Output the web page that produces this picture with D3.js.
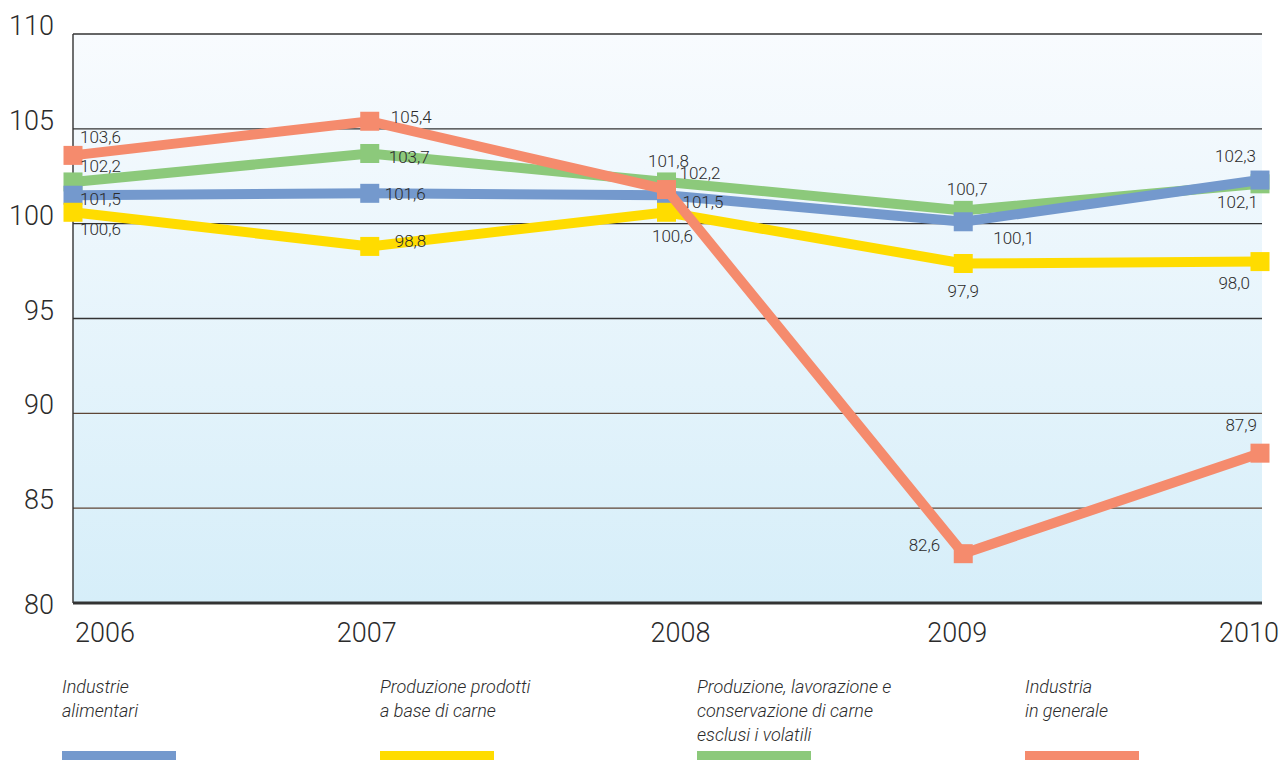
<!DOCTYPE html>
<html><head><meta charset="utf-8">
<script src="https://cdn.jsdelivr.net/npm/d3@7"></script>
<style>
html,body{margin:0;padding:0;background:#fff;}
svg{display:block;font-family:Roboto,"Liberation Sans",Arial,sans-serif;}
</style></head>
<body>
<svg id="chart" width="1280" height="760"></svg>
<script>
const years = ["2006","2007","2008","2009","2010"];
const yTicks = [80,85,90,95,100,105,110];
const seriesNames = [
  "Produzione, lavorazione e|conservazione di carne|esclusi i volatili",
  "Industrie|alimentari",
  "Produzione prodotti|a base di carne",
  "Industria|in generale"
];
const greenValues  = [102.2, 103.7, 102.2, 100.7, 102.1];
const blueValues   = [101.5, 101.6, 101.5, 100.1, 102.3];
const yellowValues = [100.6,  98.8, 100.6,  97.9,  98.0];
const orangeValues = [103.6, 105.4, 101.8,  82.6,  87.9];

const colors = ["#8cc97b", "#7499cd", "#ffdc00", "#f58b6d"];
const allValues = [greenValues, blueValues, yellowValues, orangeValues];

// label placement per series per year: [dx, dy, anchor]
const labelPos = [
  [[7,-16,"start"],[19,4,"start"],[13,-9,"start"],[4,-21,"middle"],[-2,18,"end"]],
  [[7,4,"start"],[15,1,"start"],[16,7,"start"],[30,16,"start"],[-4,-24,"end"]],
  [[7,17,"start"],[25,-5,"start"],[6,24,"middle"],[0,28,"middle"],[-10,21,"end"]],
  [[7,-18,"start"],[21,-4,"start"],[2,-29,"middle"],[-23,-9,"end"],[-3,-28,"end"]]
];

const svg = d3.select("#chart");
const L = 73, R = 1260, T = 34, B = 603;
const x = d3.scalePoint().domain(years).range([L, R]).padding(0);
const y = d3.scaleLinear().domain([80,110]).range([B, T]);

const defs = svg.append("defs");
const grad = defs.append("linearGradient").attr("id","bg").attr("x1",0).attr("x2",0).attr("y1",0).attr("y2",1);
grad.append("stop").attr("offset","0%").attr("stop-color","#f8fbfe");
grad.append("stop").attr("offset","100%").attr("stop-color","#d6eef9");

svg.append("rect").attr("x",L).attr("y",T).attr("width",R+2-L).attr("height",B-T).attr("fill","url(#bg)");

// grid
svg.append("g").selectAll("line").data(yTicks.filter(d=>d>80)).join("line")
  .attr("x1",L).attr("x2",R+2)
  .attr("y1",d=>y(d)).attr("y2",d=>y(d))
  .attr("stroke",d=>d<=90?"#5e4535":"#333")
  .attr("stroke-width",1.4);
svg.append("line").attr("x1",L).attr("x2",L).attr("y1",T).attr("y2",B).attr("stroke","#333").attr("stroke-width",1.4);
svg.append("line").attr("x1",L).attr("x2",R+2).attr("y1",B).attr("y2",B).attr("stroke","#333").attr("stroke-width",3);

// y labels
svg.append("g").selectAll("text").data(yTicks).join("text")
  .attr("x",54).attr("y",d=>y(d)+(d===80?2:-8))
  .attr("text-anchor","end").attr("dominant-baseline","central")
  .attr("font-size",27).attr("font-weight",300).attr("fill","#2b2b2b")
  .text(d=>d);

// x labels
const xdx = [2,-3,14,-6,-11];
svg.append("g").selectAll("text").data(years).join("text")
  .attr("x",(d,i)=>x(d)+xdx[i]).attr("y",633)
  .attr("text-anchor",(d,i)=>i===0?"start":"middle").attr("dominant-baseline","central")
  .attr("font-size",27).attr("font-weight",300).attr("fill","#2b2b2b")
  .text(d=>d);

// series
const line = d3.line().x((d,i)=>x(years[i])).y(d=>y(d));
const ms = 19;
allValues.forEach((vals, s) => {
  const g = svg.append("g");
  g.append("path").attr("d", line(vals)).attr("fill","none")
    .attr("stroke", colors[s]).attr("stroke-width",10).attr("stroke-linejoin","miter");
  g.selectAll("rect").data(vals).join("rect")
    .attr("x",(d,i)=>x(years[i])-ms/2).attr("y",d=>y(d)-ms/2)
    .attr("width",ms).attr("height",ms).attr("fill",colors[s]);
});
// value labels
allValues.forEach((vals, s) => {
  svg.append("g").selectAll("text").data(vals).join("text")
    .attr("x",(d,i)=>x(years[i])+labelPos[s][i][0])
    .attr("y",(d,i)=>y(d)+labelPos[s][i][1])
    .attr("text-anchor",(d,i)=>labelPos[s][i][2])
    .attr("dominant-baseline","central")
    .attr("font-size",17).attr("font-weight",300).attr("fill","#2b2b2b")
    .text(d=>d3.format(".1f")(d).replace(".",","));
});

// legend
const legOrder = [1,2,0,3];
const legX = [62,380,697,1025];
legOrder.forEach((s, k) => {
  const lines = seriesNames[s].split("|");
  const t = svg.append("text").attr("x",legX[k]).attr("y",686)
    .attr("font-size",18).attr("font-style","italic").attr("font-weight",300).attr("fill","#2b2b2b")
    .attr("dominant-baseline","central");
  lines.forEach((ln,j)=>t.append("tspan").attr("x",legX[k]).attr("dy",j===0?0:24).text(ln));
  svg.append("rect").attr("x",legX[k]).attr("y",751).attr("width",114).attr("height",12).attr("fill",colors[s]);
});
</script>
</body></html>
